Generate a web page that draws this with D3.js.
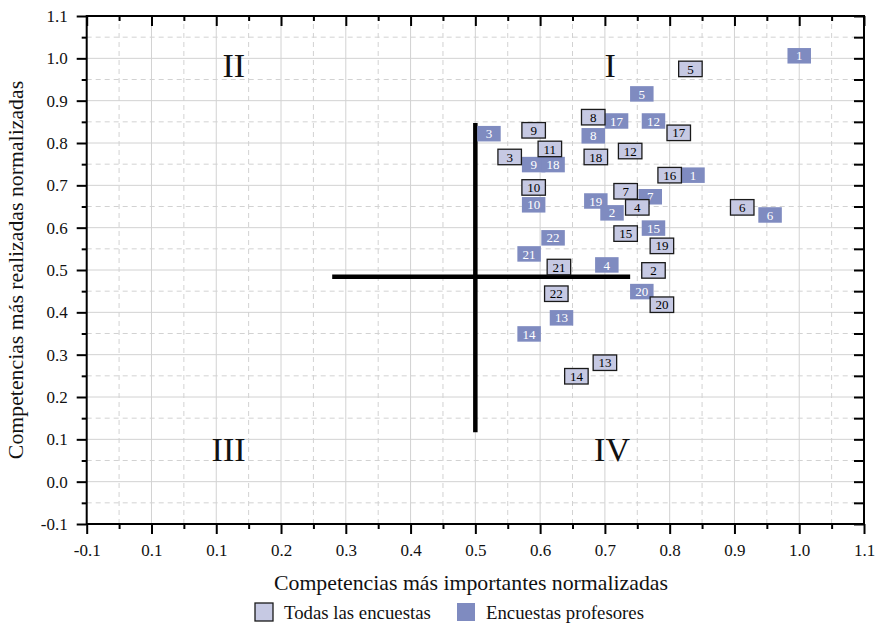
<!DOCTYPE html>
<html>
<head>
<meta charset="utf-8">
<script src="https://cdn.jsdelivr.net/npm/d3@7"></script>
<style>
body{margin:0;background:#fff}
text{font-family:"Liberation Serif","DejaVu Serif",serif}
</style>
</head>
<body>
<div id="app"></div>
<script>
// Todas las encuestas
const allLabels = ["5","8","17","9","11","3","18","12","16","10","7","4","6","15","19","21","2","22","20","13","14"]
const allX = [0.832,0.682,0.814,0.590,0.615,0.553,0.686,0.739,0.800,0.590,0.732,0.750,0.912,0.732,0.788,0.629,0.775,0.625,0.788,0.700,0.656]
const allY = [0.975,0.861,0.824,0.830,0.786,0.767,0.767,0.781,0.724,0.695,0.686,0.648,0.648,0.586,0.557,0.507,0.499,0.444,0.418,0.281,0.249]

// Encuestas profesores
const profLabels = ["1","5","17","12","3","8","9","18","1","10","7","19","2","6","15","22","21","4","20","13","14"]
const profX = [1.000,0.757,0.718,0.775,0.521,0.682,0.590,0.620,0.836,0.590,0.770,0.686,0.711,0.955,0.775,0.620,0.583,0.703,0.757,0.633,0.583]
const profY = [1.006,0.916,0.852,0.852,0.822,0.817,0.749,0.749,0.724,0.654,0.673,0.663,0.635,0.630,0.599,0.576,0.538,0.512,0.449,0.387,0.349]

const xTickLabels = ["-0.1","0.1","0.1","0.2","0.3","0.4","0.5","0.6","0.7","0.8","0.9","1.0","1.1"]
const yTickLabels = ["-0.1","0.0","0.1","0.2","0.3","0.4","0.5","0.6","0.7","0.8","0.9","1.0","1.1"]

const quadrants = [{t:"II",x:0.127,y:0.982},{t:"I",x:0.708,y:0.982},{t:"III",x:0.119,y:0.075},{t:"IV",x:0.711,y:0.075}]
const crossV = [[0.5,0.847],[0.5,0.117]]
const crossH = [[0.279,0.484],[0.739,0.484]]

let width = 877, height = 628
let m = {left:86.7, right:13, top:16, bottom:104}
let light = "#c6c9e3", dark = "#7f8bc0", grid = "#d2d2d2"
let bw = 23.5, bh = 15.5

let svg = d3.select("#app").append("svg")
   .attr("width",width).attr("height",height)

let x = d3.scaleLinear().domain([-0.1,1.1]).range([m.left,width-m.right])
let y = d3.scaleLinear().domain([-0.1,1.1]).range([height-m.bottom,m.top])

const major = d3.range(-1,12).map(i=>i/10)
const minor = d3.range(-1,11).map(i=>i/10+0.05)

// grid
let g = svg.append("g")
g.selectAll(".gxm").data(minor).join("line")
   .attr("x1",d=>x(d)).attr("x2",d=>x(d)).attr("y1",y(-0.1)).attr("y2",y(1.1))
   .attr("stroke",grid).attr("stroke-dasharray","5,4")
g.selectAll(".gym").data(minor).join("line")
   .attr("y1",d=>y(d)).attr("y2",d=>y(d)).attr("x1",x(-0.1)).attr("x2",x(1.1))
   .attr("stroke",grid).attr("stroke-dasharray","5,4")
g.selectAll(".gx").data(major).join("line")
   .attr("x1",d=>x(d)).attr("x2",d=>x(d)).attr("y1",y(-0.1)).attr("y2",y(1.1))
   .attr("stroke",grid)
g.selectAll(".gy").data(major).join("line")
   .attr("y1",d=>y(d)).attr("y2",d=>y(d)).attr("x1",x(-0.1)).attr("x2",x(1.1))
   .attr("stroke",grid)

// axes
const styleAxis = a => {
   a.select(".domain").remove()
   a.selectAll("line").attr("stroke","#000").attr("stroke-width",2)
   a.selectAll("text").attr("font-size","17px").attr("fill","#111")
}
svg.append("g").attr("transform",`translate(0,${y(-0.1)})`)
   .call(d3.axisBottom(x).tickValues(major).tickFormat((d,i)=>xTickLabels[i]).tickSize(10).tickPadding(10))
   .call(styleAxis)
svg.append("g").attr("transform",`translate(0,${y(-0.1)})`)
   .call(d3.axisBottom(x).tickValues(minor).tickFormat("").tickSize(5))
   .call(styleAxis)
svg.append("g").attr("transform",`translate(${x(-0.1)},0)`)
   .call(d3.axisLeft(y).tickValues(major).tickFormat((d,i)=>yTickLabels[i]).tickSize(10).tickPadding(9))
   .call(styleAxis)
svg.append("g").attr("transform",`translate(${x(-0.1)},0)`)
   .call(d3.axisLeft(y).tickValues(minor).tickFormat("").tickSize(5))
   .call(styleAxis)
svg.append("g").attr("transform",`translate(0,${y(1.1)})`)
   .call(d3.axisBottom(x).tickValues(major).tickFormat("").tickSize(10))
   .call(styleAxis)
svg.append("g").attr("transform",`translate(0,${y(1.1)})`)
   .call(d3.axisBottom(x).tickValues(minor).tickFormat("").tickSize(5))
   .call(styleAxis)
svg.append("g").attr("transform",`translate(${x(1.1)},0)`)
   .call(d3.axisLeft(y).tickValues(major.concat(minor)).tickFormat("").tickSize(10))
   .call(styleAxis)

svg.append("rect")
   .attr("x",x(-0.1)).attr("y",y(1.1))
   .attr("width",x(1.1)-x(-0.1)).attr("height",y(-0.1)-y(1.1))
   .attr("fill","none").attr("stroke","#000").attr("stroke-width",2)

// quadrant labels and cross
svg.append("g").selectAll("text").data(quadrants).join("text")
   .attr("x",d=>x(d.x)).attr("y",d=>y(d.y)+11)
   .attr("text-anchor","middle").attr("font-size","34px").attr("fill","#111")
   .text(d=>d.t)

const line = d3.line().x(d=>x(d[0])).y(d=>y(d[1]))
svg.append("path").attr("d",line(crossV)).attr("stroke","#000").attr("stroke-width",4.5)
svg.append("path").attr("d",line(crossH)).attr("stroke","#000").attr("stroke-width",4.5)

// label boxes
const drawBoxes = (labels,xs,ys,fill,stroke,txt) => {
   let b = svg.append("g").selectAll("g").data(labels).join("g")
      .attr("transform",(d,i)=>`translate(${x(xs[i])},${y(ys[i])})`)
   b.append("rect")
      .attr("x",-bw/2).attr("y",-bh/2).attr("width",bw).attr("height",bh)
      .attr("fill",fill).attr("stroke",stroke).attr("stroke-width",stroke=="none"?0:1.3)
   b.append("text")
      .attr("text-anchor","middle").attr("y",4.6)
      .attr("font-size","13px").attr("fill",txt)
      .text(d=>d)
}
drawBoxes(profLabels,profX,profY,dark,"none","#fff")
drawBoxes(allLabels,allX,allY,light,"#1a1a1a","#000")

// titles
svg.append("text")
   .attr("x",471).attr("y",590)
   .attr("text-anchor","middle").attr("font-size","21.8px").attr("fill","#111")
   .text("Competencias más importantes normalizadas")
svg.append("text")
   .attr("transform",`translate(23,${(y(-0.1)+y(1.1))/2}) rotate(-90)`)
   .attr("text-anchor","middle").attr("font-size","21.8px").attr("fill","#111")
   .text("Competencias más realizadas normalizadas")

// legend
let legend = [{t:"Todas las encuestas",x:255,f:light,s:"#1a1a1a"},{t:"Encuestas profesores",x:457,f:dark,s:"none"}]
let lg = svg.append("g").selectAll("g").data(legend).join("g")
lg.append("rect")
   .attr("x",d=>d.x).attr("y",603).attr("width",18).attr("height",18)
   .attr("fill",d=>d.f).attr("stroke",d=>d.s).attr("stroke-width",1.3)
lg.append("text")
   .attr("x",d=>d.x+29).attr("y",619)
   .attr("font-size","18.8px").attr("fill","#111")
   .text(d=>d.t)
</script>
</body>
</html>
